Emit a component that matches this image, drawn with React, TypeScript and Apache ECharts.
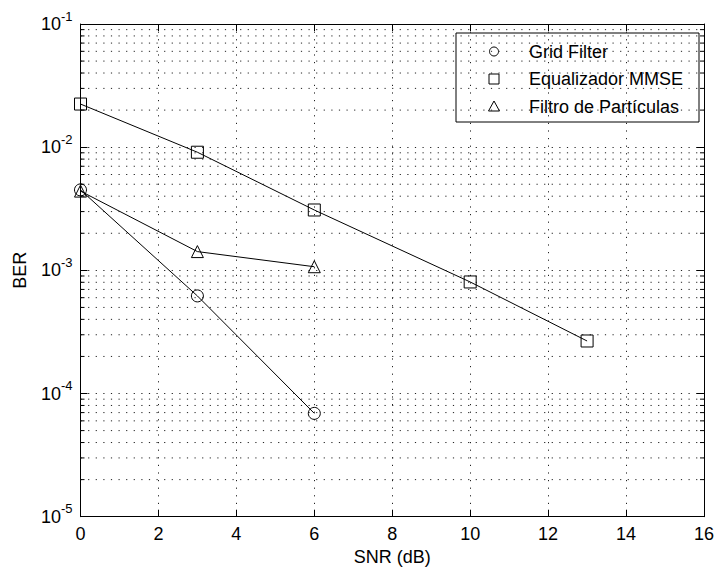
import React, { useEffect, useRef } from "react";
import * as echarts from "echarts";

const seriesNames = ["Grid Filter", "Equalizador MMSE", "Filtro de Partículas"];
const gridFilterX = [0, 3, 6];
const gridFilterY = [4.5e-3, 6.2e-4, 6.9e-5];
const mmseX = [0, 3, 6, 10, 13];
const mmseY = [0.0224, 9.1e-3, 3.09e-3, 8.05e-4, 2.67e-4];
const pfX = [0, 3, 6];
const pfY = [4.4e-3, 1.42e-3, 1.07e-3];

const decades = [1e-5, 1e-4, 1e-3, 1e-2];
const minorMultipliers = [2, 3, 4, 5, 6, 7, 8, 9];
const xMin = 0;
const xMax = 16;
const xInterval = 2;
const yMin = 1e-5;
const yMax = 1e-1;

const FONT = "'Liberation Sans', Arial, Helvetica, sans-serif";

const minorValues: number[] = [];
decades.forEach((d) => minorMultipliers.forEach((m) => minorValues.push(m * d)));

const DASH = [1.2, 6.4];
const dotted = { type: DASH, color: "#222", width: 1 };

export default function App() {
  const ref = useRef<HTMLDivElement>(null);
  useEffect(() => {
    if (!ref.current) return;
    const chart = echarts.init(ref.current, undefined, { renderer: "svg" });
    const pts = (xs: number[], ys: number[]) => xs.map((x, i) => [x, ys[i]]);
    const markerStyle = { color: "transparent", borderColor: "#000", borderWidth: 1 };
    const lineBase = {
      type: "line",
      xAxisIndex: 0,
      yAxisIndex: 0,
      symbolSize: 12,
      showSymbol: true,
      lineStyle: { color: "#000", width: 1 },
      itemStyle: markerStyle,
      z: 5,
    };
    const legendRows = [51.5, 79, 106.5];
    const lx = 494;
    chart.setOption({
      animation: false,
      backgroundColor: "#fff",
      grid: { left: 80.5, right: 10, top: 24, bottom: 54.3, containLabel: false },
      xAxis: [
        {
          type: "value",
          min: xMin,
          max: xMax,
          interval: xInterval,
          position: "bottom",
          name: "SNR (dB)",
          nameLocation: "middle",
          nameGap: 29,
          nameTextStyle: { fontFamily: FONT, fontSize: 18, color: "#000" },
          axisLine: { show: true, onZero: false, lineStyle: { color: "#000", width: 1 } },
          axisTick: { show: true, inside: true, length: 7, lineStyle: { color: "#000" } },
          axisLabel: { fontFamily: FONT, fontSize: 18, color: "#000", margin: 8 },
          splitLine: { show: true, lineStyle: dotted },
        },
        {
          type: "value",
          min: xMin,
          max: xMax,
          interval: xInterval,
          position: "top",
          axisLine: { show: true, onZero: false, lineStyle: { color: "#000", width: 1 } },
          axisTick: { show: true, inside: true, length: 7, lineStyle: { color: "#000" } },
          axisLabel: { show: false },
          splitLine: { show: false },
        },
      ],
      yAxis: [
        {
          type: "log",
          logBase: 10,
          min: yMin,
          max: yMax,
          position: "left",
          name: "BER",
          nameLocation: "middle",
          nameGap: 52,
          nameTextStyle: { fontFamily: FONT, fontSize: 18, color: "#000" },
          axisLine: { show: true, onZero: false, lineStyle: { color: "#000", width: 1 } },
          axisTick: { show: true, inside: true, length: 7, lineStyle: { color: "#000" } },
          axisLabel: {
            margin: 8,
            formatter: (v: number) => `{b|10}{s|${Math.round(Math.log10(v))}}`,
            rich: {
              b: { fontFamily: FONT, fontSize: 18, color: "#000" },
              s: { fontFamily: FONT, fontSize: 13, color: "#000", padding: [0, 0, 16, 0] },
            },
          },
          splitLine: { show: true, lineStyle: dotted },
        },
        {
          type: "log",
          logBase: 10,
          min: yMin,
          max: yMax,
          position: "right",
          axisLine: { show: true, onZero: false, lineStyle: { color: "#000", width: 1 } },
          axisTick: { show: true, inside: true, length: 7, lineStyle: { color: "#000" } },
          axisLabel: { show: false },
          splitLine: { show: false },
        },
      ],
      series: [
        {
          type: "custom",
          silent: true,
          clip: false,
          xAxisIndex: 0,
          yAxisIndex: 0,
          z: 3,
          data: minorValues.map((v) => [xMin, v]),
          renderItem: (_p: any, api: any) => {
            const v = api.value(1);
            const a = api.coord([xMin, v]);
            const b = api.coord([xMax, v]);
            return {
              type: "group",
              children: [
                {
                  type: "line",
                  shape: { x1: a[0], y1: a[1], x2: b[0], y2: b[1] },
                  style: { stroke: "#222", lineWidth: 1, lineDash: DASH },
                },
                {
                  type: "line",
                  shape: { x1: a[0], y1: a[1], x2: a[0] + 4, y2: a[1] },
                  style: { stroke: "#000", lineWidth: 1 },
                },
                {
                  type: "line",
                  shape: { x1: b[0] - 4, y1: b[1], x2: b[0], y2: b[1] },
                  style: { stroke: "#000", lineWidth: 1 },
                },
              ],
            };
          },
        },
        { ...lineBase, name: seriesNames[0], symbol: "circle", data: pts(gridFilterX, gridFilterY) },
        { ...lineBase, name: seriesNames[1], symbol: "rect", data: pts(mmseX, mmseY) },
        { ...lineBase, name: seriesNames[2], symbol: "triangle", data: pts(pfX, pfY) },
      ],
      graphic: [
        {
          type: "group",
          z: 100,
          children: [
            {
              type: "rect",
              shape: { x: 456, y: 33, width: 243, height: 89 },
              style: { fill: "#fff", stroke: "#000", lineWidth: 1 },
            },
            {
              type: "circle",
              shape: { cx: lx, cy: legendRows[0], r: 4.5 },
              style: { fill: "none", stroke: "#000", lineWidth: 1 },
            },
            {
              type: "rect",
              shape: { x: lx - 5, y: legendRows[1] - 5, width: 10, height: 10 },
              style: { fill: "none", stroke: "#000", lineWidth: 1 },
            },
            {
              type: "polygon",
              shape: {
                points: [
                  [lx, legendRows[2] - 5.5],
                  [lx + 5.5, legendRows[2] + 4.5],
                  [lx - 5.5, legendRows[2] + 4.5],
                ],
              },
              style: { fill: "none", stroke: "#000", lineWidth: 1 },
            },
            ...seriesNames.map((n, i) => ({
              type: "text",
              x: 529,
              y: legendRows[i],
              style: {
                text: n,
                fontFamily: FONT,
                fontSize: 18,
                fill: "#000",
                verticalAlign: "middle",
                align: "left",
              },
            })),
          ],
        },
      ],
    });
    return () => chart.dispose();
  }, []);
  return (
    <div
      ref={ref}
      style={{ position: "fixed", left: 0, top: 0, width: 717, height: 571, background: "#fff" }}
    />
  );
}
